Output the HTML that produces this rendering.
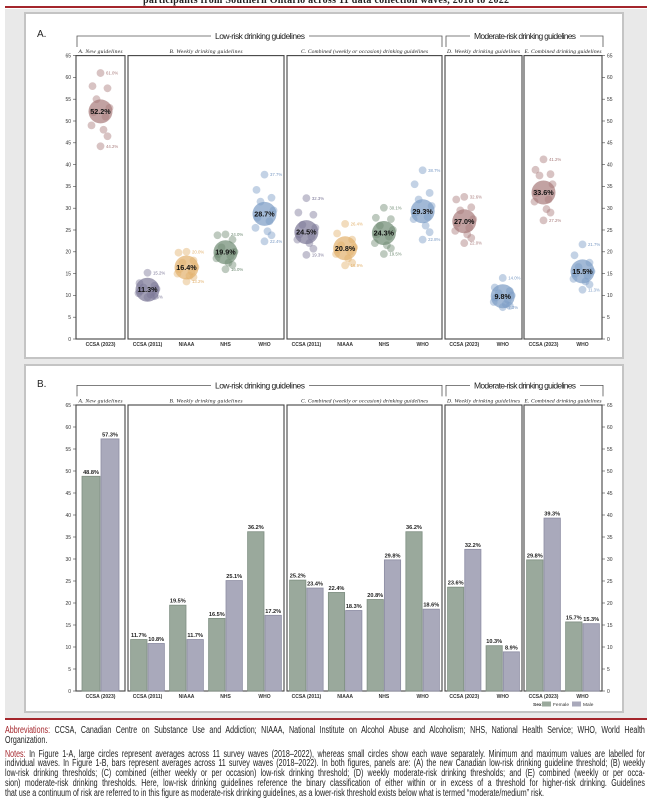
<!DOCTYPE html>
<html><head><meta charset="utf-8"><style>
html,body{margin:0;padding:0;background:#fff;}
body{width:652px;height:808px;overflow:hidden;position:relative;font-family:"Liberation Sans",sans-serif;}
#fig{position:absolute;left:0;top:0;}
.notes{position:absolute;left:5px;top:726px;width:642px;}
.ln{width:900px;transform:scaleX(0.711);transform-origin:0 0;font-size:10px;line-height:9.8px;height:9.8px;color:#222;white-space:nowrap;text-align:justify;text-align-last:justify;font-family:"Liberation Sans",sans-serif;}
.ln.last{text-align-last:left;}
.red{color:#a4262c;}
.gap{height:4px;}
</style></head><body>
<svg id="fig" width="652" height="722" viewBox="0 0 652 722" xmlns="http://www.w3.org/2000/svg">
<rect x="5" y="9" width="642" height="709" fill="#e9e9e9"/>
<text x="326" y="3" text-anchor="middle" font-family="Liberation Serif,serif" font-weight="bold" font-size="10" textLength="366" fill="#222">participants from Southern Ontario across 11 data collection waves, 2018 to 2022</text>
<rect x="5" y="6" width="642" height="2" fill="#a4262c"/>
<rect x="5" y="718" width="642" height="2" fill="#a4262c"/>
<rect x="25" y="13" width="598" height="345" fill="#fff" stroke="#c4c4c4" stroke-width="2"/>
<rect x="25" y="365" width="598" height="347" fill="#fff" stroke="#c4c4c4" stroke-width="2"/>
<text x="37" y="37" font-family="Liberation Sans,sans-serif" font-size="10" fill="#222">A.</text>
<text x="37" y="387" font-family="Liberation Sans,sans-serif" font-size="10" fill="#222">B.</text>
<g id="gA"></g>
<g id="gB"></g>
</svg>

<div class="notes">
<div class="ln"><span class="red">Abbreviations:</span> CCSA, Canadian Centre on Substance Use and Addiction; NIAAA, National Institute on Alcohol Abuse and Alcoholism; NHS, National Health Service; WHO, World Health</div>
<div class="ln last">Organization.</div>
<div class="gap"></div>
<div class="ln"><span class="red">Notes:</span> In Figure 1-A, large circles represent averages across 11 survey waves (2018–2022), whereas small circles show each wave separately. Minimum and maximum values are labelled for</div>
<div class="ln">individual waves. In Figure 1-B, bars represent averages across 11 survey waves (2018–2022). In both figures, panels are: (A) the new Canadian low-risk drinking guideline threshold; (B) weekly</div>
<div class="ln">low-risk drinking thresholds; (C) combined (either weekly or per occasion) low-risk drinking threshold; (D) weekly moderate-risk drinking thresholds; and (E) combined (weekly or per occa-</div>
<div class="ln">sion) moderate-risk drinking thresholds. Here, low-risk drinking guidelines reference the binary classification of either within or in excess of a threshold for higher-risk drinking. Guidelines</div>
<div class="ln last">that use a continuum of risk are referred to in this figure as moderate-risk drinking guidelines, as a lower-risk threshold exists below what is termed “moderate/medium” risk.</div>
</div>

<script>
// ---- data ----
const categories = ['CCSA (2023)','CCSA (2011)','NIAAA','NHS','WHO','CCSA (2011)','NIAAA','NHS','WHO','CCSA (2023)','WHO','CCSA (2023)','WHO'];
const categoryPanel = [0,1,1,1,1,2,2,2,2,3,3,4,4];
const meanValues = [52.2,11.3,16.4,19.9,28.7,24.5,20.8,24.3,29.3,27.0,9.8,33.6,15.5];
const maxValues = [61.0,15.2,20.0,24.0,37.7,32.3,26.4,30.1,38.7,32.6,14.0,41.2,21.7];
const minValues = [44.2,9.6,13.2,16.0,22.4,19.3,16.9,19.5,22.8,22.0,7.3,27.2,11.3];
const waveValues = [
 [61.0,58,57.5,55,53,52,51,49,48,46.5,44.2],
 [15.2,12.8,12.2,11.8,11.5,11,10.8,10.5,10.2,9.8,9.6],
 [20.0,19.8,18,17.5,16.5,16,15.5,15,14.5,14.2,13.2],
 [24.0,23.8,22.8,21,20,19.5,19,18.5,17.5,17,16.0],
 [37.7,34.2,32.4,31.5,29.5,27.8,27,25.5,24.7,23.8,22.4],
 [32.3,29,28.5,26.2,25.5,24,23.5,22.8,22,20.7,19.3],
 [26.4,24.2,22.8,21.5,21,20.5,20,19.5,18.5,17.5,16.9],
 [30.1,27.8,27.5,26,25,24,23.5,22,21.5,20.8,19.5],
 [38.7,35.5,33.5,32,30.5,29,28,27.5,26,24.5,22.8],
 [32.6,32,30.2,29.5,27.5,26.5,25.5,24.8,24,23.2,22.0],
 [14.0,11.8,11,10.5,10,9.5,9,8.5,8,7.6,7.3],
 [41.2,38.8,37.8,37.5,35.5,33.5,32,31.5,29.8,29,27.2],
 [21.7,19.2,17.5,16.5,15.5,15,14.5,13.8,13.2,12.5,11.3]
];
const femaleValues = [48.8,11.7,19.5,16.5,36.2,25.2,22.4,20.8,36.2,23.6,10.3,29.8,15.7];
const maleValues = [57.3,10.8,11.7,25.1,17.2,23.4,18.3,29.8,18.6,32.2,8.9,39.3,15.3];
const tickValues = [0,5,10,15,20,25,30,35,40,45,50,55,60,65];
const panelTitles = ['A. New guidelines','B. Weekly drinking guidelines','C. Combined (weekly or occasion) drinking guidelines','D. Weekly drinking guidelines','E. Combined drinking guidelines'];

// ---- layout ----
const NS='http://www.w3.org/2000/svg';
const panelX0=[76,128,287,445,524], panelX1=[125,284,442,522,602];
const titleW=[44,73,127,73,77];
const colors={'CCSA (2023)':'#a87b7b','CCSA (2011)':'#7a7696','NIAAA':'#e2b16c','NHS':'#6e8a72','WHO':'#7b9bc5'};
const jitter=[0,-8,7,-4,9,-7,5,-9,3,7,0];
const chartA={top:55.6,zero:339,g:document.getElementById('gA')};
const chartB={top:405,zero:691,g:document.getElementById('gB')};
function yScale(c,v){return c.zero-(c.zero-c.top)*v/65;}
function mk(tag,attrs,parent,txt){const e=document.createElementNS(NS,tag);for(const k in attrs)e.setAttribute(k,attrs[k]);if(txt!==undefined)e.textContent=txt;parent.appendChild(e);return e;}
const slotIdx=[],slotCount=[0,0,0,0,0];
categoryPanel.forEach((p,i)=>{slotIdx.push(slotCount[p]);slotCount[p]++;});
function xCenter(i){const p=categoryPanel[i];const step=(panelX1[p]-panelX0[p])/slotCount[p];return panelX0[p]+step*(slotIdx[i]+0.5);}
function xStep(i){const p=categoryPanel[i];return (panelX1[p]-panelX0[p])/slotCount[p];}

function drawFrame(c){
  const g=c.g;
  const hy=c.top-19.6;
  const t1=mk('text',{x:260,y:hy+3,'text-anchor':'middle','font-size':8.5,'font-family':'Liberation Sans,sans-serif',fill:'#222',textLength:90},g,'Low-risk drinking guidelines');
  
  
  const t2=mk('text',{x:525,y:hy+3,'text-anchor':'middle','font-size':8.5,'font-family':'Liberation Sans,sans-serif',fill:'#222',textLength:102},g,'Moderate-risk drinking guidelines');
  
  
  const b1=mk('path',{d:`M77 ${hy+11}V${hy}H211M309 ${hy}H442V${hy+11}`,fill:'none',stroke:'#555','stroke-width':0.8},g);
  
  
  const b2=mk('path',{d:`M446 ${hy+11}V${hy}H470M580 ${hy}H603V${hy+11}`,fill:'none',stroke:'#555','stroke-width':0.8},g);
  
  
  for(let p=0;p<5;p++){
    const r=mk('rect',{x:panelX0[p],y:c.top,width:panelX1[p]-panelX0[p],height:c.zero-c.top,fill:'none',stroke:'#444','stroke-width':1.1},g);
    
    
    const t=mk('text',{x:(panelX0[p]+panelX1[p])/2,y:c.top-2.5,'text-anchor':'middle','font-size':5.6,'font-style':'italic','font-family':'Liberation Serif,serif',fill:'#222',textLength:titleW[p]},g,panelTitles[p]);
    
    
  }
  tickValues.forEach(v=>{
    const y=yScale(c,v);
    const l1=mk('line',{x1:73,x2:76,y1:y,y2:y,stroke:'#444','stroke-width':0.6},g);
    
    
    const tl=mk('text',{x:71,y:y+1.8,'text-anchor':'end','font-size':5,'font-family':'Liberation Sans,sans-serif',fill:'#333'},g,String(v));
    
    
    const l2=mk('line',{x1:602,x2:605,y1:y,y2:y,stroke:'#444','stroke-width':0.6},g);
    
    
    const tr=mk('text',{x:607,y:y+1.8,'font-size':5,'font-family':'Liberation Sans,sans-serif',fill:'#333'},g,String(v));
    
    
  });
  categories.forEach((cat,i)=>{
    const t=mk('text',{x:xCenter(i),y:c.zero+7,'text-anchor':'middle','font-size':5,'font-weight':'bold','font-family':'Liberation Sans,sans-serif',fill:'#333'},g,cat);
    
    
  });
}
drawFrame(chartA);
drawFrame(chartB);

// ---- Panel A: dots ----
categories.forEach((cat,i)=>{
  const g=chartA.g, col=colors[cat], cx=xCenter(i);
  waveValues[i].forEach((v,k)=>{
    const c=mk('circle',{cx:cx+jitter[k],cy:yScale(chartA,v),r:3.9,fill:col,'fill-opacity':0.45},g);
    
    
  });
  const big=mk('circle',{cx:cx,cy:yScale(chartA,meanValues[i]),r:12,fill:col,'fill-opacity':0.7},g);
  
  
  const ml=mk('text',{x:cx,y:yScale(chartA,meanValues[i])+2.5,'text-anchor':'middle','font-size':7.2,'font-weight':'bold','font-family':'Liberation Sans,sans-serif',fill:'#111'},g,meanValues[i].toFixed(1)+'%');
  
  
  const mx=mk('text',{x:cx+5.5,y:yScale(chartA,maxValues[i])+1.6,'font-size':4.3,'font-family':'Liberation Sans,sans-serif',fill:col},g,maxValues[i].toFixed(1)+'%');
  
  
  const mn=mk('text',{x:cx+5.5,y:yScale(chartA,minValues[i])+1.6,'font-size':4.3,'font-family':'Liberation Sans,sans-serif',fill:col},g,minValues[i].toFixed(1)+'%');
  
  
});

// ---- Panel B: bars ----
categories.forEach((cat,i)=>{
  const g=chartB.g, cx=xCenter(i), bw=Math.min(18,xStep(i)*0.42);
  [[femaleValues[i],'#9aa99c','#7f8f82',-1],[maleValues[i],'#a9a9bb','#8d8da3',1]].forEach(([v,f,s,side])=>{
    const x=side<0?cx-bw-0.5:cx+0.5, y=yScale(chartB,v);
    const r=mk('rect',{x:x,y:y,width:bw,height:chartB.zero-y,fill:f,stroke:s,'stroke-width':0.8},g);
    
    
    const t=mk('text',{x:x+bw/2,y:y-2.5,'text-anchor':'middle','font-size':5.6,'font-weight':'bold','font-family':'Liberation Sans,sans-serif',fill:'#222'},g,v.toFixed(1)+'%');
    
    
  });
});
(function(){
  const g=chartB.g, y=704;
  const lg=mk('g',{},g);
  
  
  const t=mk('text',{x:533,y:y+2,'font-size':4.8,'font-weight':'bold','font-family':'Liberation Sans,sans-serif',fill:'#333'},lg,'Sex:');
  
  
  const s1=mk('rect',{x:542,y:y-2.5,width:9,height:5,fill:'#9aa99c'},lg);
  
  
  const t1=mk('text',{x:553,y:y+2,'font-size':4.8,'font-family':'Liberation Sans,sans-serif',fill:'#333'},lg,'Female');
  
  
  const s2=mk('rect',{x:572,y:y-2.5,width:9,height:5,fill:'#a9a9bb'},lg);
  
  
  const t2=mk('text',{x:583,y:y+2,'font-size':4.8,'font-family':'Liberation Sans,sans-serif',fill:'#333'},lg,'Male');
  
  
})();
</script>
</body></html>
